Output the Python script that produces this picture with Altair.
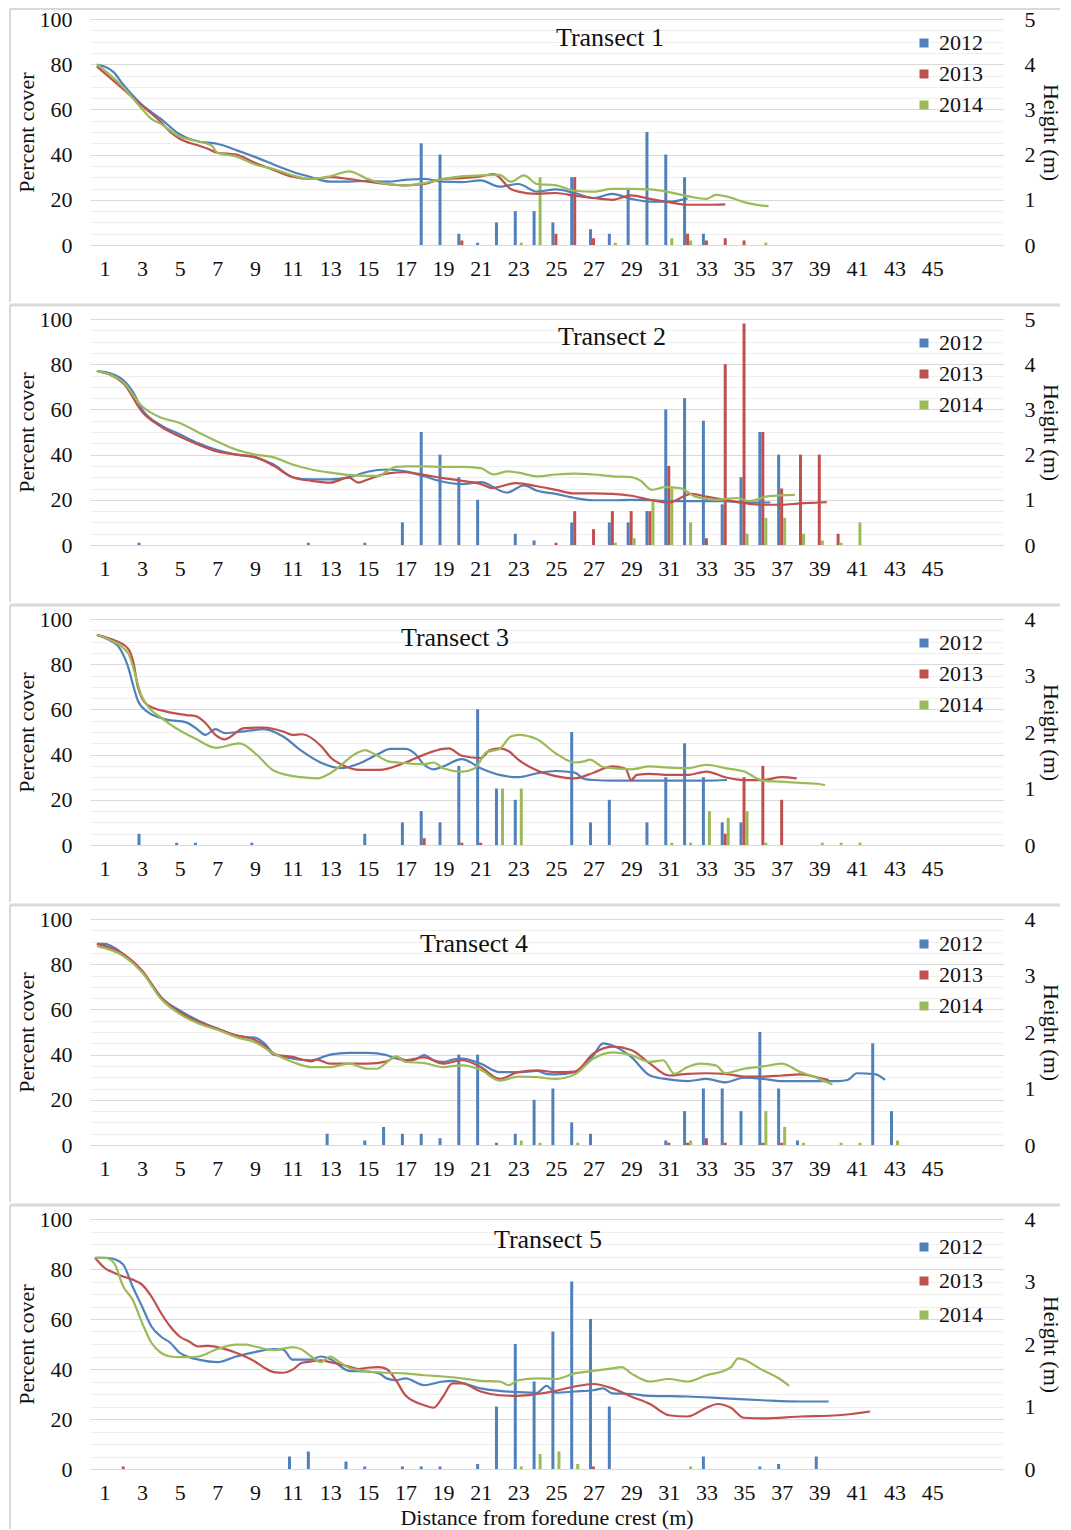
import altair as alt
import pandas as pd

FONT = "Liberation Serif"
YEARS = ["2012", "2013", "2014"]
COLORS = ["#4F81BD", "#C0504D", "#9BBB59"]
X_TICKS = list(range(1, 46, 2))
X_TITLE = "Distance from foredune crest (m)"

# ---------------- Transect 1 ----------------
T1_COVER_2012 = {18: 45, 19: 40, 20: 5, 21: 1, 22: 10, 23: 15, 24: 15, 25: 10, 26: 30, 27: 7,
                 28: 5, 29: 25, 30: 50, 31: 40, 32: 30, 33: 5}
T1_COVER_2013 = {20: 2, 25: 5, 26: 30, 27: 3, 32: 5, 33: 2, 34: 3, 35: 2}
T1_COVER_2014 = {23: 1, 24: 30, 28: 1, 31: 3, 32: 2, 36: 1}
T1_H_2012 = [[0.6, 3.98], [1, 3.95], [1.5, 3.82], [2, 3.55], [3, 3.10], [4, 2.79], [5, 2.45], [5.5, 2.35],
             [6, 2.29], [7, 2.24], [8, 2.10], [9, 1.95], [10, 1.78], [11, 1.62], [12, 1.50], [13, 1.40],
             [14, 1.40], [15, 1.42], [16, 1.40], [17, 1.44], [18, 1.46], [19, 1.40], [20, 1.39], [21, 1.43],
             [22, 1.29], [23, 1.35], [24, 1.18], [25, 1.23], [26, 1.15], [27, 1.04], [28, 1.13], [29, 1.02],
             [30, 0.96], [31, 0.96], [32, 1.03]]
T1_H_2013 = [[0.6, 3.95], [2, 3.45], [3, 3.08], [4, 2.72], [4.5, 2.50], [5, 2.35], [6, 2.20], [6.5, 2.13],
             [7, 2.04], [8, 2.00], [9, 1.82], [10, 1.66], [11, 1.51], [12, 1.46], [13, 1.50], [14, 1.46],
             [15, 1.40], [16, 1.35], [17, 1.32], [18, 1.35], [19, 1.46], [20, 1.48], [21, 1.52], [21.7, 1.57],
             [22.6, 1.24], [23, 1.18], [24, 1.13], [25, 1.15], [26, 1.09], [27, 1.04], [28, 1.00], [29, 1.10],
             [30, 1.02], [31, 0.95], [32, 0.89], [33, 0.89], [34, 0.90]]
T1_H_2014 = [[0.6, 4.00], [2, 3.49], [3, 3.01], [3.5, 2.79], [4, 2.68], [5, 2.40], [6, 2.29], [6.7, 2.20],
             [7, 2.04], [8, 1.96], [9, 1.78], [10, 1.68], [11, 1.54], [12, 1.46], [13, 1.52], [14, 1.63],
             [15, 1.46], [16, 1.35], [17, 1.32], [18, 1.37], [19, 1.46], [20, 1.52], [21, 1.54], [22, 1.55],
             [22.6, 1.40], [23.3, 1.54], [24, 1.35], [25, 1.32], [26, 1.20], [27, 1.18], [28, 1.24],
             [29, 1.24], [30, 1.23], [31, 1.17], [32, 1.08], [33, 1.02], [33.5, 1.11], [34, 1.08],
             [35, 0.95], [36, 0.87], [36.3, 0.86]]

# ---------------- Transect 2 ----------------
T2_COVER_2012 = {3: 1, 12: 1, 15: 1, 17: 10, 18: 50, 19: 40, 20: 30, 21: 20, 23: 5, 24: 2, 26: 10,
                 28: 10, 29: 10, 30: 15, 31: 60, 32: 65, 33: 55, 34: 18, 35: 30, 36: 50, 37: 40}
T2_COVER_2013 = {25: 1, 26: 15, 27: 7, 28: 15, 29: 15, 30: 15, 31: 35, 33: 3, 34: 80, 35: 98, 36: 50,
                 37: 25, 38: 40, 39: 40, 40: 5}
T2_COVER_2014 = {28: 1, 29: 3, 30: 19, 31: 25, 32: 10, 35: 5, 36: 12, 37: 12, 38: 5, 39: 2, 40: 1, 41: 10}
T2_H_2012 = [[0.6, 3.85], [1, 3.83], [2, 3.65], [2.5, 3.40], [3, 3.00], [4, 2.65], [5, 2.45], [6, 2.25],
             [7, 2.10], [8, 2.00], [9, 1.94], [10, 1.78], [11, 1.50], [12, 1.45], [13, 1.45], [14, 1.50],
             [15, 1.62], [16, 1.67], [17, 1.63], [18, 1.52], [19, 1.40], [20, 1.35], [21, 1.39], [22.4, 1.16],
             [23.3, 1.32], [24, 1.20], [25, 1.13], [26, 1.04], [27, 0.99], [28, 0.99], [29, 1.00], [30, 0.99],
             [31, 0.97], [32, 0.97], [33, 0.97], [34, 0.97], [35, 0.94], [36, 0.94], [36.4, 0.94]]
T2_H_2013 = [[0.6, 3.85], [2, 3.58], [3, 2.95], [4, 2.62], [5, 2.40], [6, 2.22], [7, 2.07], [8, 2.00],
             [9, 1.95], [10, 1.75], [11, 1.50], [12, 1.42], [13, 1.38], [14, 1.49], [14.5, 1.38], [15, 1.45],
             [16, 1.58], [17, 1.61], [18, 1.55], [19, 1.48], [20, 1.42], [21, 1.35], [21.6, 1.26],
             [22.9, 1.37], [24, 1.30], [25, 1.22], [26, 1.14], [27, 1.14], [28, 1.13], [29, 1.09],
             [30, 1.00], [31, 0.94], [32.2, 1.13], [33, 1.07], [34, 1.00], [35, 0.93], [36, 0.89],
             [37, 0.89], [38, 0.92], [39, 0.94], [39.4, 0.95]]
T2_H_2014 = [[0.6, 3.85], [2, 3.60], [3, 3.07], [4, 2.82], [5, 2.70], [6, 2.49], [7, 2.29], [8, 2.11],
             [9, 2.00], [10, 1.94], [11, 1.78], [12, 1.67], [13, 1.60], [14, 1.55], [15, 1.53], [15.6, 1.53],
             [16, 1.63], [16.5, 1.73], [17, 1.74], [18, 1.74], [19, 1.73], [20, 1.73], [21, 1.70],
             [21.7, 1.56], [22.4, 1.63], [23, 1.60], [24, 1.52], [25, 1.56], [26, 1.58], [27, 1.56],
             [28, 1.52], [29, 1.50], [29.5, 1.42], [30.1, 1.22], [30.8, 1.28], [31.6, 1.26], [32.4, 1.07],
             [33.5, 1.00], [34.6, 1.04], [35.3, 0.97], [36.3, 1.08], [37.7, 1.11]]

# ---------------- Transect 3 ----------------
T3_COVER_2012 = {3: 5, 5: 1, 6: 1, 9: 1, 15: 5, 17: 10, 18: 15, 19: 10, 20: 35, 21: 60, 22: 25, 23: 20,
                 26: 50, 27: 10, 28: 20, 30: 10, 31: 30, 32: 45, 33: 30, 34: 10, 35: 10}
T3_COVER_2013 = {18: 3, 20: 1, 21: 1, 34: 5, 35: 30, 36: 35, 37: 20}
T3_COVER_2014 = {22: 25, 23: 25, 31: 1, 32: 1, 33: 15, 34: 12, 35: 15, 36: 1, 39: 1, 40: 1, 41: 1}
T3_H_2012 = [[0.6, 3.72], [1.23, 3.63], [1.73, 3.52], [2.25, 3.16], [2.55, 2.80], [2.77, 2.56],
             [3.28, 2.36], [4.3, 2.22], [5.35, 2.17], [5.85, 2.07], [6.37, 1.95], [6.9, 2.05], [7.4, 1.98],
             [8.42, 2.01], [9.46, 2.05], [10.5, 1.92], [11.5, 1.66], [12.55, 1.45], [13.57, 1.36],
             [14.6, 1.45], [15.5, 1.60], [16.2, 1.70], [17, 1.70], [17.5, 1.62], [18, 1.42], [18.5, 1.34],
             [19, 1.39], [20, 1.52], [21, 1.36], [22, 1.24], [23, 1.20], [24, 1.27], [25, 1.31], [26, 1.28],
             [26.5, 1.17], [27, 1.15], [28, 1.14], [30, 1.14], [32, 1.14], [33, 1.14], [34.1, 1.15]]
T3_H_2013 = [[0.6, 3.72], [1.23, 3.66], [2.25, 3.48], [2.55, 3.22], [2.77, 2.81], [3.28, 2.48],
             [4.3, 2.36], [5.35, 2.30], [5.85, 2.28], [6.37, 2.16], [6.9, 1.95], [7.4, 1.87], [8.42, 2.07],
             [9.46, 2.08], [10.5, 2.01], [11, 1.95], [11.5, 1.96], [12.55, 1.74], [13.05, 1.54],
             [13.57, 1.43], [14.6, 1.33], [15.6, 1.33], [17, 1.46], [18, 1.60], [19, 1.70], [19.3, 1.71],
             [20, 1.58], [21, 1.54], [21.5, 1.68], [22, 1.71], [22.5, 1.66], [23, 1.51], [24, 1.32],
             [25, 1.22], [26, 1.18], [27, 1.28], [28, 1.39], [28.7, 1.35], [29, 1.15], [29.3, 1.24],
             [30, 1.26], [31, 1.24], [32, 1.24], [33, 1.30], [34, 1.20], [35, 1.15], [36, 1.15], [37, 1.20],
             [37.8, 1.18]]
T3_H_2014 = [[0.6, 3.72], [1.23, 3.64], [2.25, 3.40], [2.77, 2.86], [2.97, 2.64], [4.23, 2.20],
             [5.85, 1.88], [6.93, 1.72], [8.19, 1.80], [9.09, 1.60], [9.99, 1.32], [11.43, 1.20],
             [12.33, 1.18], [13.05, 1.28], [14.49, 1.64], [14.85, 1.68], [15.4, 1.60], [16.1, 1.48],
             [17, 1.45], [18, 1.43], [18.5, 1.46], [19, 1.36], [20, 1.30], [20.7, 1.36], [21.3, 1.64],
             [22, 1.70], [22.6, 1.92], [23, 1.95], [24, 1.87], [25, 1.62], [26, 1.46], [26.5, 1.48],
             [26.8, 1.51], [27.5, 1.38], [28, 1.36], [29, 1.34], [30, 1.39], [31, 1.37], [32, 1.36],
             [33, 1.42], [34, 1.36], [35, 1.30], [36, 1.14], [37, 1.12], [38, 1.10], [39, 1.08], [39.3, 1.06]]

# ---------------- Transect 4 ----------------
T4_COVER_2012 = {13: 5, 15: 2, 16: 8, 17: 5, 18: 5, 19: 3, 20: 40, 21: 40, 22: 1, 23: 5, 24: 20, 25: 25,
                 26: 10, 27: 5, 31: 2, 32: 15, 33: 25, 34: 25, 35: 15, 36: 50, 37: 25, 38: 2, 42: 45, 43: 15}
T4_COVER_2013 = {31: 1, 32: 1, 33: 3, 34: 1, 36: 1, 37: 1}
T4_COVER_2014 = {23: 2, 24: 1, 26: 1, 32: 2, 36: 15, 37: 8, 38: 1, 40: 1, 41: 1, 43: 2}
T4_H_2012 = [[0.6, 3.56], [1, 3.56], [2, 3.38], [3, 3.06], [3.5, 2.85], [4, 2.62], [5, 2.38], [6, 2.20],
             [7, 2.06], [8, 1.94], [8.5, 1.91], [9, 1.90], [9.5, 1.80], [10, 1.62], [11, 1.53], [12, 1.50],
             [13, 1.60], [14, 1.63], [15, 1.63], [16, 1.59], [16.5, 1.53], [17, 1.50], [17.5, 1.51],
             [18, 1.59], [18.5, 1.50], [19, 1.47], [19.5, 1.51], [20, 1.53], [21, 1.44], [22, 1.29],
             [23, 1.29], [24, 1.31], [24.5, 1.26], [25, 1.25], [26, 1.29], [27, 1.59], [27.5, 1.80],
             [28, 1.76], [29, 1.56], [30, 1.23], [31, 1.16], [32, 1.13], [33, 1.17], [34, 1.11], [35, 1.19],
             [36, 1.17], [37, 1.13], [38, 1.13], [39, 1.13], [40, 1.13], [40.5, 1.15], [41, 1.27],
             [42, 1.25], [42.5, 1.15]]
T4_H_2013 = [[0.6, 3.56], [2, 3.38], [3, 3.09], [4, 2.62], [5, 2.35], [6, 2.18], [7, 2.06], [8, 1.94],
             [9, 1.86], [9.5, 1.76], [10, 1.60], [11, 1.56], [12, 1.48], [12.3, 1.51], [13, 1.44], [14, 1.44],
             [15, 1.44], [16, 1.48], [16.5, 1.56], [17, 1.50], [18, 1.55], [19, 1.44], [20, 1.50], [21, 1.38],
             [22, 1.17], [23, 1.29], [24, 1.32], [25, 1.29], [26, 1.30], [27, 1.62], [28, 1.74], [29, 1.68],
             [30, 1.44], [31, 1.23], [32, 1.26], [33, 1.27], [34, 1.26], [35, 1.21], [36, 1.21], [37, 1.23],
             [38, 1.25], [39, 1.19], [39.5, 1.15]]
T4_H_2014 = [[0.6, 3.52], [2, 3.35], [3, 3.06], [4, 2.59], [5, 2.32], [6, 2.15], [7, 2.04], [8, 1.91],
             [9, 1.82], [10, 1.62], [11, 1.47], [12, 1.38], [13, 1.38], [14, 1.44], [15, 1.35], [15.5, 1.35],
             [16, 1.46], [16.5, 1.57], [17, 1.47], [18, 1.45], [19, 1.38], [20, 1.41], [21, 1.33], [22, 1.14],
             [23, 1.21], [24, 1.20], [25, 1.17], [26, 1.25], [27, 1.53], [28, 1.64], [29, 1.59], [30, 1.47],
             [30.7, 1.50], [31.3, 1.26], [32, 1.38], [32.7, 1.44], [33.5, 1.41], [34, 1.27], [35, 1.35],
             [36, 1.39], [37, 1.44], [38, 1.29], [39, 1.17], [39.7, 1.07]]

# ---------------- Transect 5 ----------------
T5_COVER_2012 = {11: 5, 12: 7, 14: 3, 15: 1, 17: 1, 18: 1, 19: 1, 21: 2, 22: 25, 23: 50, 24: 35, 25: 55,
                 26: 75, 27: 60, 28: 25, 33: 5, 36: 1, 37: 2, 39: 5}
T5_COVER_2013 = {2: 1, 27: 1}
T5_COVER_2014 = {23: 1, 24: 6, 25: 7, 26: 2, 32: 1}
T5_H_2012 = [[0.5, 3.38], [1, 3.38], [1.5, 3.36], [2, 3.27], [2.5, 2.92], [3, 2.60], [3.5, 2.28], [4, 2.12],
             [4.5, 2.02], [5, 1.86], [5.5, 1.79], [6, 1.75], [7, 1.71], [8, 1.80], [9, 1.87], [10, 1.92],
             [10.5, 1.91], [11, 1.75], [12, 1.75], [12.5, 1.80], [13, 1.76], [14, 1.57], [15, 1.56],
             [15.6, 1.53], [16, 1.45], [16.5, 1.42], [17, 1.45], [18, 1.34], [19, 1.40], [19.5, 1.41],
             [20, 1.38], [21, 1.29], [22, 1.25], [23, 1.23], [24, 1.22], [24.5, 1.33], [25, 1.22], [26, 1.24],
             [27, 1.26], [27.5, 1.29], [28, 1.21], [29, 1.20], [30, 1.17], [32, 1.16], [34, 1.13], [36, 1.10],
             [38, 1.08], [39.5, 1.08]]
T5_H_2013 = [[0.5, 3.38], [1, 3.22], [1.5, 3.14], [2, 3.08], [2.5, 3.03], [3, 2.95], [3.5, 2.76], [4, 2.50],
             [4.5, 2.28], [5, 2.12], [5.5, 2.04], [6, 1.96], [6.5, 1.97], [7, 1.95], [8, 1.86], [9, 1.72],
             [9.5, 1.62], [10, 1.55], [10.5, 1.54], [11, 1.59], [11.5, 1.70], [12, 1.72], [12.5, 1.74],
             [13, 1.71], [14, 1.64], [14.5, 1.60], [15, 1.62], [15.6, 1.63], [16, 1.60], [16.5, 1.42],
             [17, 1.18], [18, 1.02], [18.5, 0.98], [19, 1.16], [19.5, 1.37], [20, 1.37], [21, 1.24],
             [22, 1.18], [23, 1.17], [24, 1.20], [25, 1.25], [26, 1.32], [27, 1.36], [28, 1.29], [29, 1.16],
             [30, 1.04], [31, 0.86], [32, 0.84], [33, 0.98], [33.6, 1.04], [34.3, 0.98], [35, 0.82],
             [36, 0.81], [38, 0.84], [40, 0.86], [41.7, 0.92]]
T5_H_2014 = [[0.5, 3.38], [1, 3.38], [1.5, 3.30], [2, 2.92], [2.5, 2.71], [3, 2.34], [3.5, 2.02], [4, 1.86],
             [4.5, 1.80], [5, 1.79], [5.5, 1.79], [6, 1.80], [7, 1.92], [8, 1.99], [8.5, 1.99], [9, 1.96],
             [10, 1.90], [11, 1.95], [11.5, 1.91], [12, 1.80], [12.5, 1.71], [13, 1.80], [13.5, 1.71],
             [14, 1.62], [15, 1.56], [16, 1.54], [17, 1.53], [18, 1.50], [19, 1.48], [20, 1.45], [21, 1.41],
             [22, 1.40], [22.5, 1.34], [23, 1.42], [24, 1.45], [25, 1.44], [26, 1.53], [27, 1.57], [28, 1.61],
             [28.5, 1.63], [29, 1.53], [30, 1.40], [31, 1.44], [32, 1.40], [33, 1.50], [34, 1.58],
             [34.3, 1.63], [34.7, 1.77], [36, 1.58], [37, 1.42], [37.4, 1.33]]

TRANSECTS = [
    ("Transect 1", [T1_COVER_2012, T1_COVER_2013, T1_COVER_2014], [T1_H_2012, T1_H_2013, T1_H_2014], 5),
    ("Transect 2", [T2_COVER_2012, T2_COVER_2013, T2_COVER_2014], [T2_H_2012, T2_H_2013, T2_H_2014], 5),
    ("Transect 3", [T3_COVER_2012, T3_COVER_2013, T3_COVER_2014], [T3_H_2012, T3_H_2013, T3_H_2014], 4),
    ("Transect 4", [T4_COVER_2012, T4_COVER_2013, T4_COVER_2014], [T4_H_2012, T4_H_2013, T4_H_2014], 4),
    ("Transect 5", [T5_COVER_2012, T5_COVER_2013, T5_COVER_2014], [T5_H_2012, T5_H_2013, T5_H_2014], 4),
]

# layout (pixels, relative to each plot area)
PLOT_W = 913
PLOT_H = [226, 226, 226, 226, 250]
TITLE_POS = [(520, 19), (522, 18), (365, 19), (384, 25), (458, 21)]
LEGEND_Y = [13, 13, 13, 14, 17]
LEGEND_ROWPAD = [9, 9, 9, 9, 12]
FRAME_TOP = [-10, -14, -14, -14, -14]
FRAME_LEFT = -80

GRID_MAJOR = "#d9d9d9"
GRID_MINOR = "#eeeeee"
FRAME = "#d9d9d9"
TEXT = "#111111"

x_scale = alt.Scale(domain=[0.5, 48.5], nice=False, zero=False)
color_scale = alt.Scale(domain=YEARS, range=COLORS)
one_row = alt.Data(values=[{}])


def make_panel(i, name, covers, heights, hmax):
    last = i == len(TRANSECTS) - 1
    ph = PLOT_H[i]
    bar_rows = []
    for yr, cov in zip(YEARS, covers):
        for d, v in cov.items():
            bar_rows.append({"dist": d, "cover": v, "year": yr})
    line_rows = []
    for yr, ser in zip(YEARS, heights):
        for d, h in ser:
            line_rows.append({"dist": d, "height": h, "year": yr})
    bar_df = pd.DataFrame(bar_rows)
    line_df = pd.DataFrame(line_rows)

    x_axis = alt.Axis(values=X_TICKS, ticks=False, domain=False, grid=False, labelPadding=13,
                      labelOverlap=False, labelFlush=False,
                      title=X_TITLE if last else None, titlePadding=4)

    left_axis = alt.Axis(
        orient="left", values=list(range(0, 101, 5)),
        labelExpr="datum.value % 20 === 0 ? datum.label : ''",
        grid=True,
        gridColor={"condition": {"test": "datum.value % 20 === 0", "value": GRID_MAJOR}, "value": GRID_MINOR},
        ticks=False, domain=False, labelPadding=18, labelOverlap=False,
        title="Percent cover", titlePadding=1)
    right_axis = alt.Axis(orient="right", values=list(range(0, hmax + 1)), grid=False, ticks=False,
                          domain=False, labelPadding=21, title="Height (m)", titlePadding=3)

    bars = alt.Chart(bar_df).transform_calculate(
        xpos="datum.dist + (datum.year === '2012' ? -0.16 : (datum.year === '2014' ? 0.16 : 0))"
    ).mark_bar(size=3).encode(
        x=alt.X("xpos:Q", scale=x_scale, axis=x_axis),
        y=alt.Y("cover:Q", scale=alt.Scale(domain=[0, 100], nice=False), axis=left_axis),
        color=alt.Color("year:N", scale=color_scale, legend=alt.Legend(
            title=None, orient="none", legendX=823, legendY=LEGEND_Y[i], symbolType="square",
            symbolSize=81, symbolStrokeWidth=0, labelFont=FONT, labelFontSize=22, labelColor=TEXT,
            rowPadding=LEGEND_ROWPAD[i], labelOffset=4, padding=0)),
    )

    lines = alt.Chart(line_df).mark_line(interpolate="monotone", strokeWidth=2.2).encode(
        x=alt.X("dist:Q", scale=x_scale, axis=x_axis),
        y=alt.Y("height:Q", scale=alt.Scale(domain=[0, hmax], nice=False), axis=right_axis),
        color=alt.Color("year:N", scale=color_scale, legend=None),
    )

    tx, ty = TITLE_POS[i]
    title = alt.Chart(one_row).mark_text(font=FONT, fontSize=26, color=TEXT).encode(
        x=alt.value(tx), y=alt.value(ty), text=alt.value(name))

    frame_h = alt.Chart(one_row).mark_rule(color=FRAME, strokeWidth=3 if i else 2).encode(
        x=alt.value(FRAME_LEFT), x2=alt.value(970), y=alt.value(FRAME_TOP[i]))
    frame_v = alt.Chart(one_row).mark_rule(color=FRAME, strokeWidth=2).encode(
        x=alt.value(FRAME_LEFT), y=alt.value(FRAME_TOP[i]), y2=alt.value(ph + (60 if last else 57)))

    return alt.layer(frame_h, frame_v, bars, lines, title).resolve_scale(
        y="independent", color="independent").properties(width=PLOT_W, height=ph)


panels = [make_panel(i, *t) for i, t in enumerate(TRANSECTS)]

chart = alt.vconcat(*panels, spacing=0).resolve_scale(
    color="independent", x="independent", y="independent"
).resolve_legend(color="independent").properties(
    padding={"left": 0, "top": 0, "right": 0, "bottom": 0}
).configure(padding=0).configure_view(stroke=None).configure_axis(
    labelFont=FONT, titleFont=FONT, labelFontSize=22, titleFontSize=22, titleFontWeight="normal",
    labelColor=TEXT, titleColor=TEXT
)

chart.save("out.html", embed_options={"renderer": "svg", "actions": False})
